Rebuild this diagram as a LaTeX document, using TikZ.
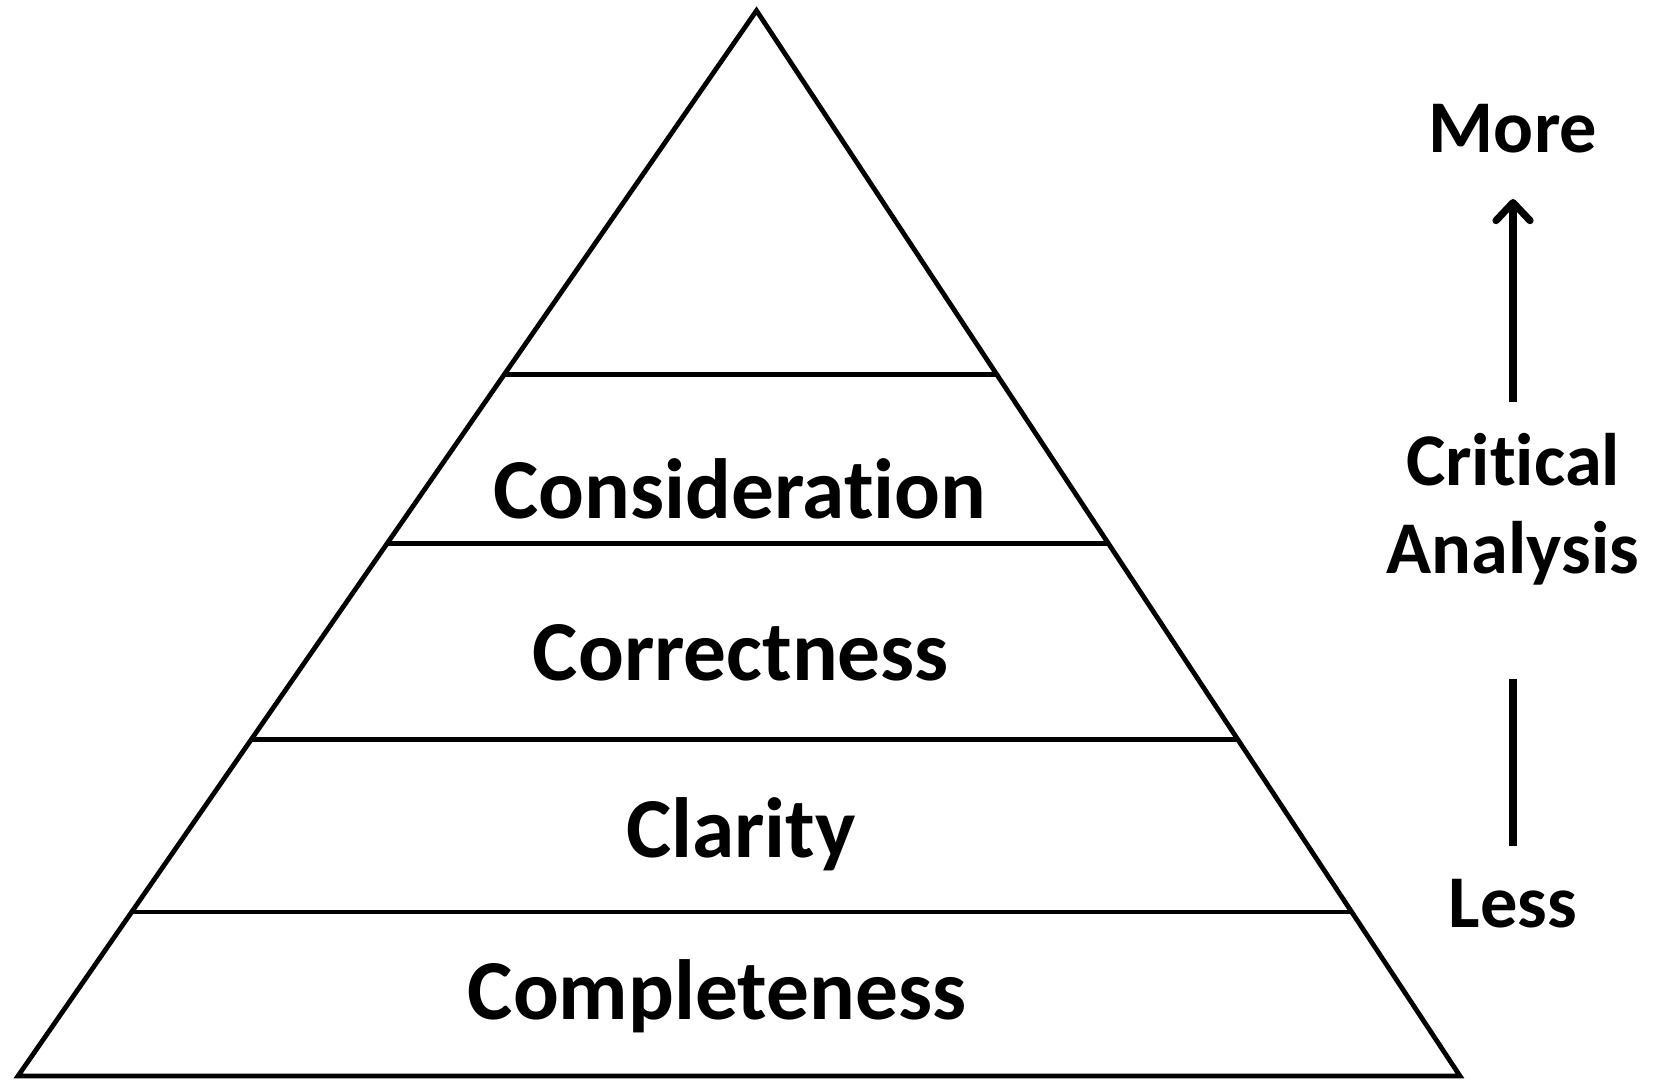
\documentclass[tikz,border=0pt]{standalone}
\usepackage{fontspec}
\setmainfont{Carlito}[Ligatures={NoCommon}]
\usetikzlibrary{calc,arrows.meta}
\begin{document}
\begin{tikzpicture}[x=0.5pt,y=-0.5pt,
  edge/.style={line width=2.4pt,line join=miter},
  band/.style={line width=2.4pt},
  level/.style={font=\bfseries\fontsize{42.7}{46}\selectfont,anchor=base,inner sep=0pt},
  side/.style={font=\bfseries\fontsize{37.2}{40}\selectfont,anchor=base,inner sep=0pt},
  axis/.style={line width=3.6pt}]
\useasboundingbox (0,0) rectangle (1659,1080);
\coordinate (apex) at (756.5,10.6);
\coordinate (bl) at (18,1076);
\coordinate (br) at (1460,1076);
\draw[edge] (apex) -- (bl) -- (br) -- cycle;
\foreach \n/\t in {a/0.3416,b/0.5005,c/0.6842,d/0.8461}{
  \coordinate (L\n) at ($(apex)!\t!(bl)$);
  \coordinate (R\n) at ($(apex)!\t!(br)$);
  \draw[band] (L\n) -- (R\n);
}
\node[level] (consid) at (740,518.5) {Consideration};
\node[level] (correct) at (741,680) {Correctness};
\node[level] (clar) at (741,857) {Clarity};
\node[level] (compl) at (717,1019) {Completeness};
\node[side] (more) at (1513,153) {More};
\node[side] (crit) at (1513,485) {Critical};
\node[side] (anal) at (1513,573.5) {Analysis};
\node[side] (less) at (1513,927) {Less};
\coordinate (up0) at (1513,402);
\coordinate (up1) at (1513,199);
\coordinate (lo0) at (1513,679);
\coordinate (lo1) at (1513,846);
\draw[axis,-{Straight Barb[length=9pt,width=17pt,line width=3.6pt 0,line cap=round,line join=round]}] (up0) -- (up1);
\draw[axis] (lo0) -- (lo1);
\end{tikzpicture}
\end{document}
